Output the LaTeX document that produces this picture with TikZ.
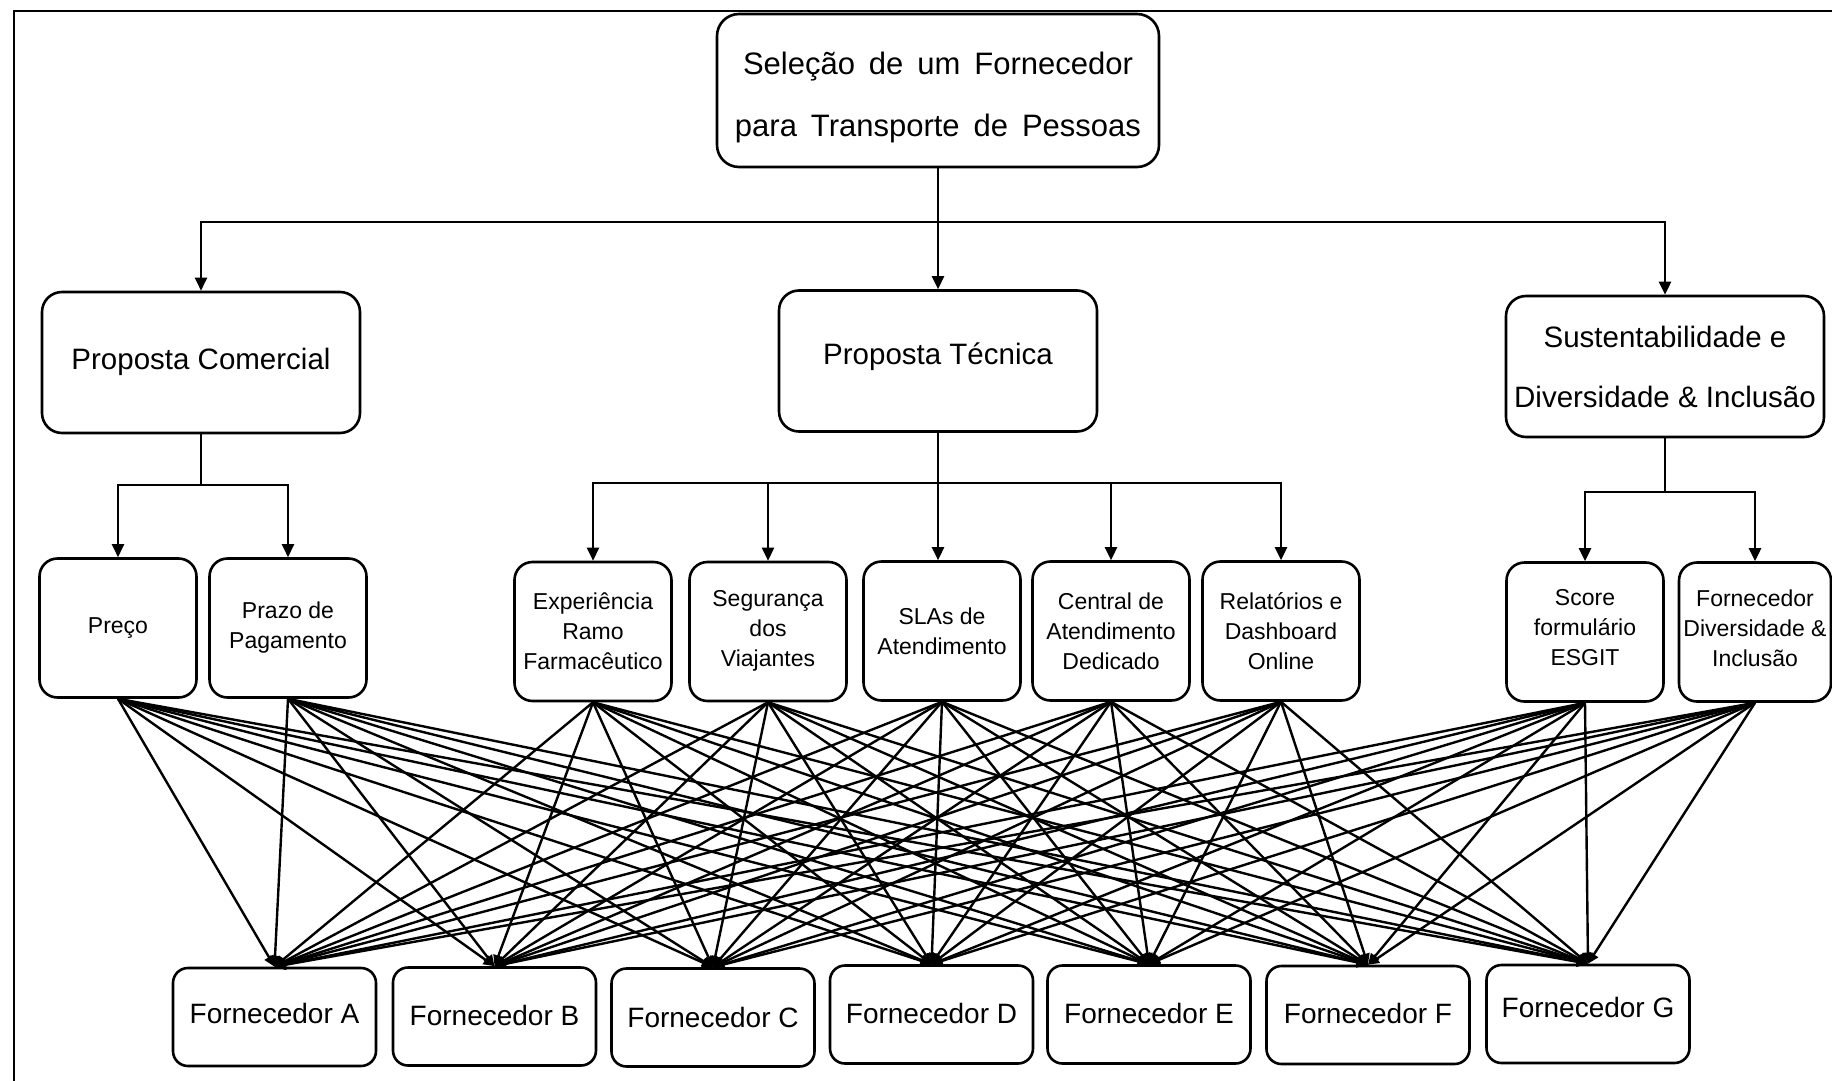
\documentclass[tikz,border=0pt]{standalone}
\usepackage{fontspec}
\setmainfont{Liberation Sans}
\usetikzlibrary{arrows.meta}
% \up{n}: extra depth under a line, which lifts a node's text by n/2
\newcommand{\up}[1]{\rule[-#1]{0pt}{1pt}}
% \down{n}: extra height over a line, which lowers a node's text
\newcommand{\down}[1]{\rule{0pt}{#1}}
\begin{document}
\begin{tikzpicture}[x=1pt,y=-1pt,
  box/.style={draw, line width=2.6pt, align=center, inner sep=0pt, fill=white},
  mainbox/.style={box, rounded corners=22pt, minimum width=442pt, minimum height=153pt,
    font=\fontsize{31}{62}\selectfont},
  groupbox/.style={box, rounded corners=20pt, minimum width=318pt, minimum height=141pt,
    font=\fontsize{29.5}{60}\selectfont},
  critbox/.style={box, rounded corners=18pt, minimum width=157pt, minimum height=139pt,
    font=\fontsize{23}{30}\selectfont},
  supbox/.style={box, rounded corners=15pt, minimum width=203pt, minimum height=98pt,
    font=\fontsize{28}{34}\selectfont},
  wire/.style={line width=2.5pt},
  arr/.style={wire, -{Triangle[length=13pt,width=12pt]}},
  link/.style={line width=2.4pt, -{Triangle[length=11pt,width=10pt]}}
]
\useasboundingbox (0,0) rectangle (1832,1081);

% frame
\draw[line width=2.8pt] (14,1081) -- (14,11) -- (1832,11);

% goal
\node[mainbox] (goal) at (938,90.5)
  {\spaceskip=0.45em plus 0.1em \down{37pt}Seleção de um Fornecedor\\\spaceskip=0.45em plus 0.1em para Transporte de Pessoas};

% groups
\node[groupbox] (pc) at (201,362.5) {Proposta Comercial\up{8pt}};
\node[groupbox] (pt) at (938,361) {Proposta Técnica\up{14pt}};
\node[groupbox] (sd) at (1665,366.5) {Sustentabilidade e\\Diversidade \& Inclusão};

% criteria
\node[critbox] (preco) at (118,628) {Preço};
\node[critbox] (prazo) at (288,628) {Prazo de\\Pagamento};
\node[critbox] (exp)   at (593,631.5) {Experiência\\Ramo\\Farmacêutico};
\node[critbox] (seg)   at (768,631.5) {Segurança\\dos\\Viajantes\up{7pt}};
\node[critbox] (sla)   at (942,631) {SLAs de\\Atendimento};
\node[critbox] (cent)  at (1111,631) {Central de\\Atendimento\\Dedicado};
\node[critbox] (rel)   at (1281,631) {Relatórios e\\Dashboard\\Online};
\node[critbox] (score) at (1585,632) {Score\\formulário\\ESGIT\up{10pt}};
\node[critbox, minimum width=152pt] (di) at (1755,632) {Fornecedor\\Diversidade \&\\Inclusão\up{8pt}};

% suppliers
\node[supbox] (fa) at (274.5,1017) {Fornecedor A\up{8pt}};
\node[supbox] (fb) at (494.5,1016.5) {Fornecedor B\up{2pt}};
\node[supbox] (fc) at (713,1017.5) {Fornecedor C};
\node[supbox] (fd) at (931.5,1014.5) {Fornecedor D\up{2pt}};
\node[supbox] (fe) at (1149,1014.5) {Fornecedor E\up{3pt}};
\node[supbox] (ff) at (1368,1015) {Fornecedor F\up{4pt}};
\node[supbox] (fg) at (1588,1014) {Fornecedor G\up{14pt}};

% goal to groups
\coordinate (j0) at (938,222);
\draw[wire] (pc.north |- j0) -- (sd.north |- j0);
\draw[arr] (goal.south) -- (pt.north);
\draw[arr] (j0) -| (pc.north);
\draw[arr] (j0) -| (sd.north);

% groups to criteria
\coordinate (j1) at (201,485);
\draw[wire] (pc.south) -- (j1);
\draw[wire] (preco.north |- j1) -- (prazo.north |- j1);
\draw[arr] (j1) -| (preco.north);
\draw[arr] (j1) -| (prazo.north);

\coordinate (j2) at (938,483);
\draw[wire] (exp.north |- j2) -- (rel.north |- j2);
\draw[arr] (pt.south) -- (sla.north -| pt.south);
\foreach \c in {exp,seg,cent,rel}
  \draw[arr] (j2) -| (\c.north);

\coordinate (j3) at (1665,492);
\draw[wire] (sd.south) -- (j3);
\draw[wire] (score.north |- j3) -- (di.north |- j3);
\draw[arr] (j3) -| (score.north);
\draw[arr] (j3) -| (di.north);

% criteria to suppliers
\foreach \c in {preco,prazo,exp,seg,sla,cent,rel,score,di}
  \foreach \s in {fa,fb,fc,fd,fe,ff,fg}
    \draw[link] (\c.south) -- (\s.north);
\end{tikzpicture}
\end{document}
